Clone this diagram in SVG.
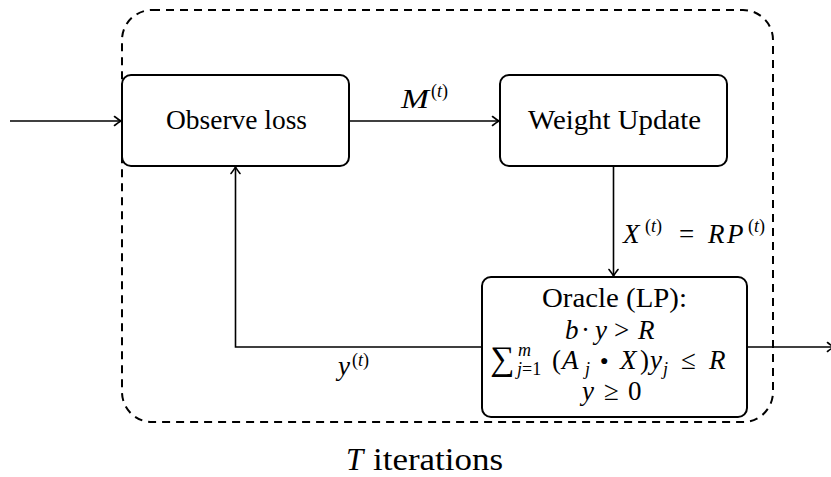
<svg xmlns="http://www.w3.org/2000/svg" width="831" height="477" viewBox="0 0 831 477" font-family="'Liberation Serif', 'DejaVu Serif', 'Noto Serif', 'Times New Roman', serif">
  <style>
    .box { fill: #ffffff; stroke: #000000; stroke-width: 2; }
    .wire { fill: none; stroke: #000000; stroke-width: 1.6; }
    .loop { fill: none; stroke: #000000; stroke-width: 2; stroke-dasharray: 8 6; }
    text { fill: #000000; font-size: 27px; }
    .it { font-style: italic; }
    .sc { font-size: 18px; }
  </style>
  <defs>
    <marker id="tip" viewBox="-8 -6 10 12" refX="0" refY="0" markerWidth="10" markerHeight="12" markerUnits="userSpaceOnUse" orient="auto">
      <path d="M -6.5,-4.5 Q -2,-1 0,0 Q -2,1 -6.5,4.5" fill="none" stroke="#000000" stroke-width="1.6" stroke-linecap="round"/>
    </marker>
  </defs>

  <!-- iteration frame and its caption -->
  <g id="frame">
    <rect class="loop" x="122" y="10" width="651" height="412" rx="30" ry="30"/>
    <text class="it" x="346" y="470" style="font-size:31px">T</text>
    <text x="373" y="470" style="font-size:31px" textLength="130" lengthAdjust="spacingAndGlyphs">iterations</text>
  </g>

  <!-- connectors and their labels -->
  <g id="connectors">
    <line class="wire" x1="10" y1="121" x2="121" y2="121" marker-end="url(#tip)"/>
    <line class="wire" x1="349" y1="121" x2="499" y2="121" marker-end="url(#tip)"/>
    <line class="wire" x1="613.5" y1="166" x2="613.5" y2="276" marker-end="url(#tip)"/>
    <polyline class="wire" points="482,347 235.5,347 235.5,167" marker-end="url(#tip)"/>
    <line class="wire" x1="747" y1="347" x2="834" y2="347" marker-end="url(#tip)"/>

    <!-- M^(t) -->
    <text class="it" x="401" y="108" textLength="28" lengthAdjust="spacingAndGlyphs">M</text>
    <text class="sc" x="431" y="97">(<tspan class="it">t</tspan>)</text>

    <!-- X^(t) = RP^(t) -->
    <text class="it" x="623" y="243">X</text>
    <text class="sc" x="645" y="232">(<tspan class="it">t</tspan>)</text>
    <text x="679" y="243">=</text>
    <text class="it" x="708" y="243">R</text>
    <text class="it" x="727" y="243">P</text>
    <text class="sc" x="748" y="232">(<tspan class="it">t</tspan>)</text>

    <!-- y^(t) -->
    <text class="it" x="338" y="375">y</text>
    <text class="sc" x="352" y="366">(<tspan class="it">t</tspan>)</text>
  </g>

  <g id="observe">
    <rect class="box" x="122" y="75" width="227" height="91" rx="9" ry="9"/>
    <text x="166" y="129" textLength="141" lengthAdjust="spacingAndGlyphs">Observe loss</text>
  </g>

  <g id="update">
    <rect class="box" x="500" y="75" width="227" height="91" rx="9" ry="9"/>
    <text x="528" y="129" textLength="173" lengthAdjust="spacingAndGlyphs">Weight Update</text>
  </g>

  <g id="oracle">
    <rect class="box" x="482" y="277" width="265" height="140" rx="9" ry="9"/>
    <text x="542" y="307" textLength="145" lengthAdjust="spacingAndGlyphs">Oracle (LP):</text>

    <!-- b · y > R -->
    <text class="it" x="565" y="339">b</text>
    <text x="581" y="339">·</text>
    <text class="it" x="595" y="339">y</text>
    <text x="614" y="339">&gt;</text>
    <text class="it" x="638" y="339">R</text>

    <!-- sum_{j=1}^{m} (A_j • X) y_j ≤ R -->
    <text x="490" y="370" style="font-size:34px">∑</text>
    <text class="sc it" x="518" y="356">m</text>
    <text class="sc it" x="517" y="375">j<tspan style="font-style:normal">=1</tspan></text>
    <text x="552" y="369">(</text>
    <text class="it" x="562" y="369">A</text>
    <text class="sc it" x="585" y="375">j</text>
    <text x="600" y="365" style="font-size:14px">●</text>
    <text class="it" x="620" y="369">X</text>
    <text x="640" y="369">)</text>
    <text class="it" x="650" y="369">y</text>
    <text class="sc it" x="663" y="375">j</text>
    <text x="681" y="369">≤</text>
    <text class="it" x="709" y="369">R</text>

    <!-- y ≥ 0 -->
    <text class="it" x="582" y="400">y</text>
    <text x="604" y="400">≥</text>
    <text x="628" y="400">0</text>
  </g>
</svg>
